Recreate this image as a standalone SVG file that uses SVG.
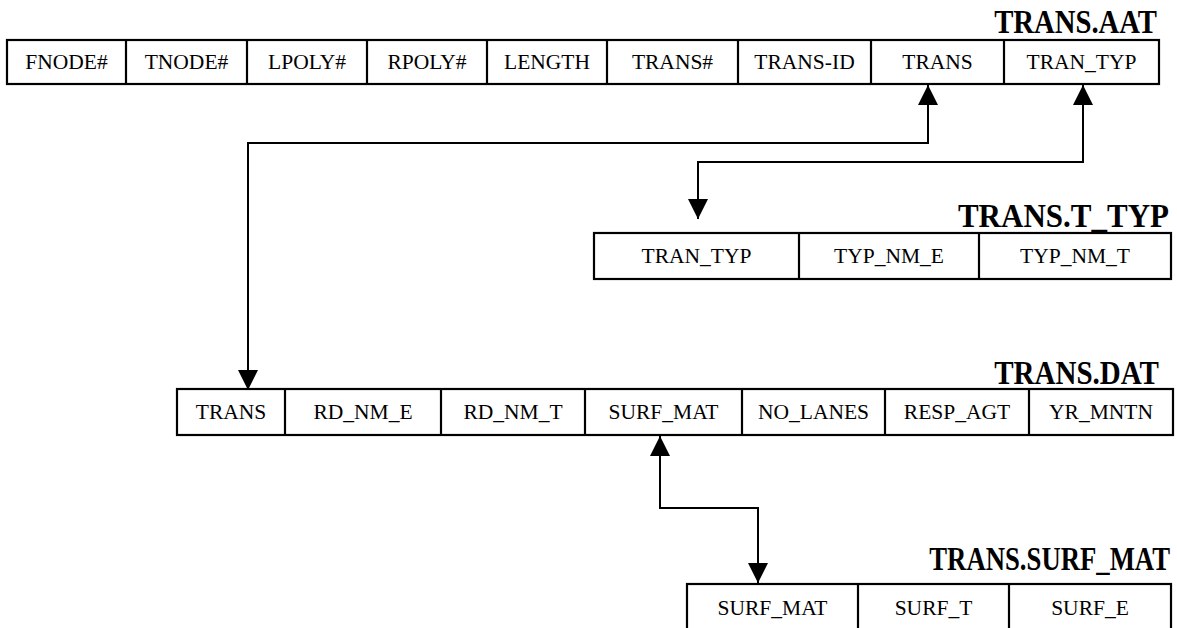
<svg xmlns="http://www.w3.org/2000/svg" width="1177" height="628" viewBox="0 0 1177 628">
<style>
  .cell { fill: #fff; stroke: #000; stroke-width: 2.2; }
  .div { stroke: #000; stroke-width: 2.2; }
  .t { font-family: "Liberation Serif", "Times New Roman", serif; font-size: 21.5px; text-anchor: middle; fill: #000; }
  .title { font-family: "Liberation Serif", "Times New Roman", serif; font-size: 33px; font-weight: bold; text-anchor: end; fill: #000; }
  .conn { fill: none; stroke: #000; stroke-width: 2; }
</style>
<defs>
  <marker id="ah" viewBox="0 0 20 20" refX="20" refY="10" markerWidth="20" markerHeight="20" markerUnits="userSpaceOnUse" orient="auto-start-reverse">
    <path d="M0,0 L20,10 L0,20 z" fill="#000"/>
  </marker>
</defs>
<rect width="1177" height="628" fill="#fff"/>

<g id="trans-aat">
  <text class="title" transform="translate(1157,33) scale(0.87,1)">TRANS.AAT</text>
  <rect class="cell" x="7" y="40" width="1152" height="44"/>
  <line class="div" x1="126" y1="40" x2="126" y2="84"/>
  <line class="div" x1="247" y1="40" x2="247" y2="84"/>
  <line class="div" x1="367" y1="40" x2="367" y2="84"/>
  <line class="div" x1="487" y1="40" x2="487" y2="84"/>
  <line class="div" x1="607" y1="40" x2="607" y2="84"/>
  <line class="div" x1="738" y1="40" x2="738" y2="84"/>
  <line class="div" x1="871" y1="40" x2="871" y2="84"/>
  <line class="div" x1="1004" y1="40" x2="1004" y2="84"/>
  <text class="t" x="66.5" y="69">FNODE#</text>
  <text class="t" x="186.5" y="69">TNODE#</text>
  <text class="t" x="307" y="69">LPOLY#</text>
  <text class="t" x="427" y="69">RPOLY#</text>
  <text class="t" x="547" y="69">LENGTH</text>
  <text class="t" x="672.5" y="69">TRANS#</text>
  <text class="t" x="804.5" y="69">TRANS-ID</text>
  <text class="t" x="937.5" y="69">TRANS</text>
  <text class="t" x="1081.5" y="69">TRAN_TYP</text>
</g>

<g id="trans-t-typ">
  <text class="title" transform="translate(1169,227) scale(0.94,1)">TRANS.T_TYP</text>
  <rect class="cell" x="594" y="233" width="577" height="46"/>
  <line class="div" x1="799" y1="233" x2="799" y2="279"/>
  <line class="div" x1="979" y1="233" x2="979" y2="279"/>
  <text class="t" x="696.5" y="263">TRAN_TYP</text>
  <text class="t" x="889" y="263">TYP_NM_E</text>
  <text class="t" x="1075" y="263">TYP_NM_T</text>
</g>

<g id="trans-dat">
  <text class="title" transform="translate(1159,384) scale(0.88,1)">TRANS.DAT</text>
  <rect class="cell" x="177" y="389" width="996" height="46"/>
  <line class="div" x1="285" y1="389" x2="285" y2="435"/>
  <line class="div" x1="441" y1="389" x2="441" y2="435"/>
  <line class="div" x1="585" y1="389" x2="585" y2="435"/>
  <line class="div" x1="742" y1="389" x2="742" y2="435"/>
  <line class="div" x1="885" y1="389" x2="885" y2="435"/>
  <line class="div" x1="1029" y1="389" x2="1029" y2="435"/>
  <text class="t" x="231" y="419">TRANS</text>
  <text class="t" x="363" y="419">RD_NM_E</text>
  <text class="t" x="513" y="419">RD_NM_T</text>
  <text class="t" x="663.5" y="419">SURF_MAT</text>
  <text class="t" x="813.5" y="419">NO_LANES</text>
  <text class="t" x="957" y="419">RESP_AGT</text>
  <text class="t" x="1101" y="419">YR_MNTN</text>
</g>

<g id="trans-surf-mat">
  <text class="title" transform="translate(1170,570) scale(0.81,1)">TRANS.SURF_MAT</text>
  <rect class="cell" x="687" y="584" width="484" height="48"/>
  <line class="div" x1="858" y1="584" x2="858" y2="632"/>
  <line class="div" x1="1009" y1="584" x2="1009" y2="632"/>
  <text class="t" x="772.5" y="615">SURF_MAT</text>
  <text class="t" x="933.5" y="615">SURF_T</text>
  <text class="t" x="1090" y="615">SURF_E</text>
</g>

<g id="connectors">
  <path class="conn" d="M928,85 V143 H248 V390" marker-start="url(#ah)" marker-end="url(#ah)"/>
  <path class="conn" d="M1083,85 V162 H698 V219" marker-start="url(#ah)" marker-end="url(#ah)"/>
  <path class="conn" d="M660,436 V508 H758 V583" marker-start="url(#ah)" marker-end="url(#ah)"/>
</g>
</svg>
